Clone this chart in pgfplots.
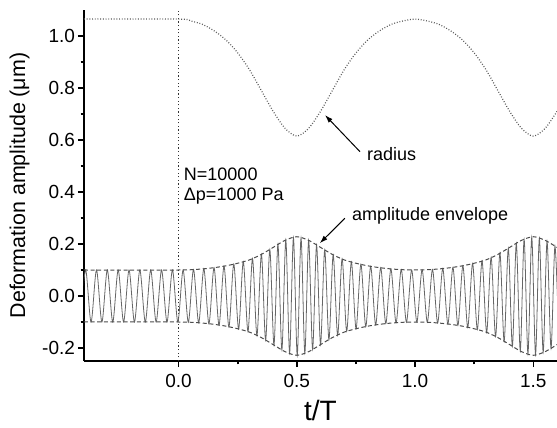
\documentclass[border=0pt]{standalone}
\usepackage{fontspec}
\setmainfont{Liberation Sans}
\usepackage{pgfplots}
\usepackage{pgfplotstable}
\pgfplotsset{compat=1.18}
\usetikzlibrary{arrows.meta}

\pgfplotstableread{
t R
-0.40 1.065
0.00 1.065
0.05 1.058
0.10 1.045
0.15 1.020
0.20 0.985
0.25 0.935
0.30 0.870
0.35 0.790
0.40 0.710
0.45 0.645
0.50 0.615
0.55 0.645
0.60 0.710
0.65 0.790
0.70 0.870
0.75 0.935
0.80 0.985
0.85 1.020
0.90 1.045
0.95 1.058
1.00 1.065
1.05 1.058
1.10 1.045
1.15 1.020
1.20 0.985
1.25 0.935
1.30 0.870
1.35 0.790
1.40 0.710
1.45 0.645
1.50 0.615
1.55 0.645
1.60 0.710
}\radtab

\pgfplotstableread{
t A
-0.40 0.100
0.00 0.100
0.05 0.101
0.10 0.104
0.15 0.109
0.20 0.116
0.25 0.126
0.30 0.139
0.35 0.160
0.40 0.187
0.45 0.214
0.50 0.228
0.55 0.214
0.60 0.187
0.65 0.160
0.70 0.139
0.75 0.126
0.80 0.116
0.85 0.109
0.90 0.104
0.95 0.101
1.00 0.100
1.05 0.101
1.10 0.104
1.15 0.109
1.20 0.116
1.25 0.126
1.30 0.139
1.35 0.160
1.40 0.187
1.45 0.214
1.50 0.228
1.55 0.214
1.60 0.187
}\envtab

\pgfplotstableread{
t y
-0.4160 -0.100
-0.3931 0.100
-0.3702 -0.100
-0.3472 0.100
-0.3243 -0.100
-0.3014 0.100
-0.2784 -0.100
-0.2555 0.100
-0.2326 -0.100
-0.2096 0.100
-0.1867 -0.100
-0.1638 0.100
-0.1408 -0.100
-0.1179 0.100
-0.0950 -0.100
-0.0720 0.100
-0.0491 -0.100
-0.0261 0.100
-0.0032 -0.100
0.0190 0.100
0.0411 -0.101
0.0630 0.102
0.0849 -0.103
0.1067 0.105
0.1282 -0.107
0.1498 0.109
0.1709 -0.112
0.1920 0.115
0.2127 -0.119
0.2333 0.123
0.2537 -0.127
0.2735 0.132
0.2933 -0.137
0.3125 0.144
0.3313 -0.152
0.3502 0.160
0.3680 -0.170
0.3857 0.179
0.4033 -0.189
0.4200 0.198
0.4367 -0.207
0.4533 0.215
0.4694 -0.219
0.4855 0.224
0.5016 -0.228
0.5177 0.223
0.5338 -0.219
0.5499 0.214
0.5666 -0.205
0.5834 0.196
0.6001 -0.187
0.6178 0.177
0.6356 -0.168
0.6536 0.158
0.6725 -0.151
0.6913 0.143
0.7107 -0.136
0.7305 0.131
0.7503 -0.126
0.7708 0.122
0.7914 -0.118
0.8122 0.114
0.8333 -0.111
0.8545 0.109
0.8761 -0.106
0.8976 0.104
0.9195 -0.103
0.9414 0.102
0.9634 -0.101
0.9854 0.100
1.0075 -0.100
1.0296 0.101
1.0516 -0.101
1.0735 0.102
1.0954 -0.104
1.1170 0.106
1.1386 -0.108
1.1599 0.110
1.1810 -0.113
1.2021 0.116
1.2226 -0.121
1.2431 0.125
1.2632 -0.129
1.2830 0.135
1.3026 -0.140
1.3215 0.148
1.3404 -0.156
1.3587 0.165
1.3765 -0.174
1.3942 0.184
1.4113 -0.193
1.4280 0.202
1.4447 -0.211
1.4610 0.217
1.4771 -0.222
1.4932 0.226
1.5093 -0.225
1.5254 0.221
1.5415 -0.216
1.5579 0.210
1.5747 -0.201
1.5914 0.192
1.6081 -0.183
}\sigtab

\begin{document}
\begin{tikzpicture}
\useasboundingbox (0,0) rectangle (278.5pt,214pt);
\begin{axis}[
  at={(42pt,33.5pt)}, anchor=south west,
  scale only axis, width=236.5pt, height=175.5pt,
  xmin=-0.4, xmax=1.6, ymin=-0.25, ymax=1.1,
  axis x line*=bottom, axis y line*=left,
  axis line style={line width=0.8pt,-},
  tick align=outside,
  xtick={0,0.5,1,1.5},
  ytick={-0.2,0,0.2,0.4,0.6,0.8,1.0},
  minor x tick num=1, minor y tick num=1,
  major tick length=3pt, minor tick length=1.7pt,
  every tick/.style={line width=0.8pt, black},
  ticklabel style={font=\fontsize{9.5}{10}\selectfont},
  yticklabel style={xshift=2pt},
  /pgf/number format/fixed,
  /pgf/number format/fixed zerofill,
  /pgf/number format/precision=1,
  /pgf/number format/assume math mode=true,
  xlabel={t/T},
  ylabel={Deformation amplitude (μm)},
  every axis x label/.style={at={(axis description cs:0.5,0)}, anchor=center, yshift=-24.5pt, font=\fontsize{14}{16}\selectfont},
  every axis y label/.style={at={(axis description cs:-0.1364,0.5)}, anchor=center, rotate=90, font=\fontsize{10.7}{12}\selectfont},
]
\addplot[black!80, line width=0.75pt, dash pattern=on 0.6pt off 1.2pt] coordinates {(0,-0.25) (0,1.1)};
\addplot[black!65, line width=0.6pt, dash pattern=on 0.45pt off 0.9pt, smooth] table[x=t,y=R] {\radtab};
\addplot[black!60, line width=0.4pt, smooth] table[x=t,y=y] {\sigtab};
\addplot[black!70, line width=0.5pt, dash pattern=on 2pt off 1.3pt, smooth] table[x=t,y=A] {\envtab};
\addplot[black!70, line width=0.5pt, dash pattern=on 2pt off 1.3pt, smooth] table[x=t,y expr=-\thisrow{A}] {\envtab};
\node[anchor=base west, inner sep=0pt, font=\fontsize{9}{10}\selectfont] at (axis cs:0.021,0.446) {N=10000};
\node[anchor=base west, inner sep=0pt, font=\fontsize{9}{10}\selectfont] at (axis cs:0.021,0.369) {Δp=1000 Pa};
\node[anchor=base west, inner sep=0pt, font=\fontsize{9}{10}\selectfont] at (axis cs:0.795,0.523) {radius};
\draw[-{Latex[length=4pt,width=2.6pt]}, line width=0.5pt] (axis cs:0.767,0.555) -- (axis cs:0.619,0.696);
\node[anchor=base west, inner sep=0pt, font=\fontsize{9}{10}\selectfont] at (axis cs:0.732,0.29) {amplitude envelope};
\draw[-{Latex[length=4pt,width=2.6pt]}, line width=0.5pt] (axis cs:0.703,0.299) -- (axis cs:0.597,0.203);
\end{axis}
\end{tikzpicture}
\end{document}
